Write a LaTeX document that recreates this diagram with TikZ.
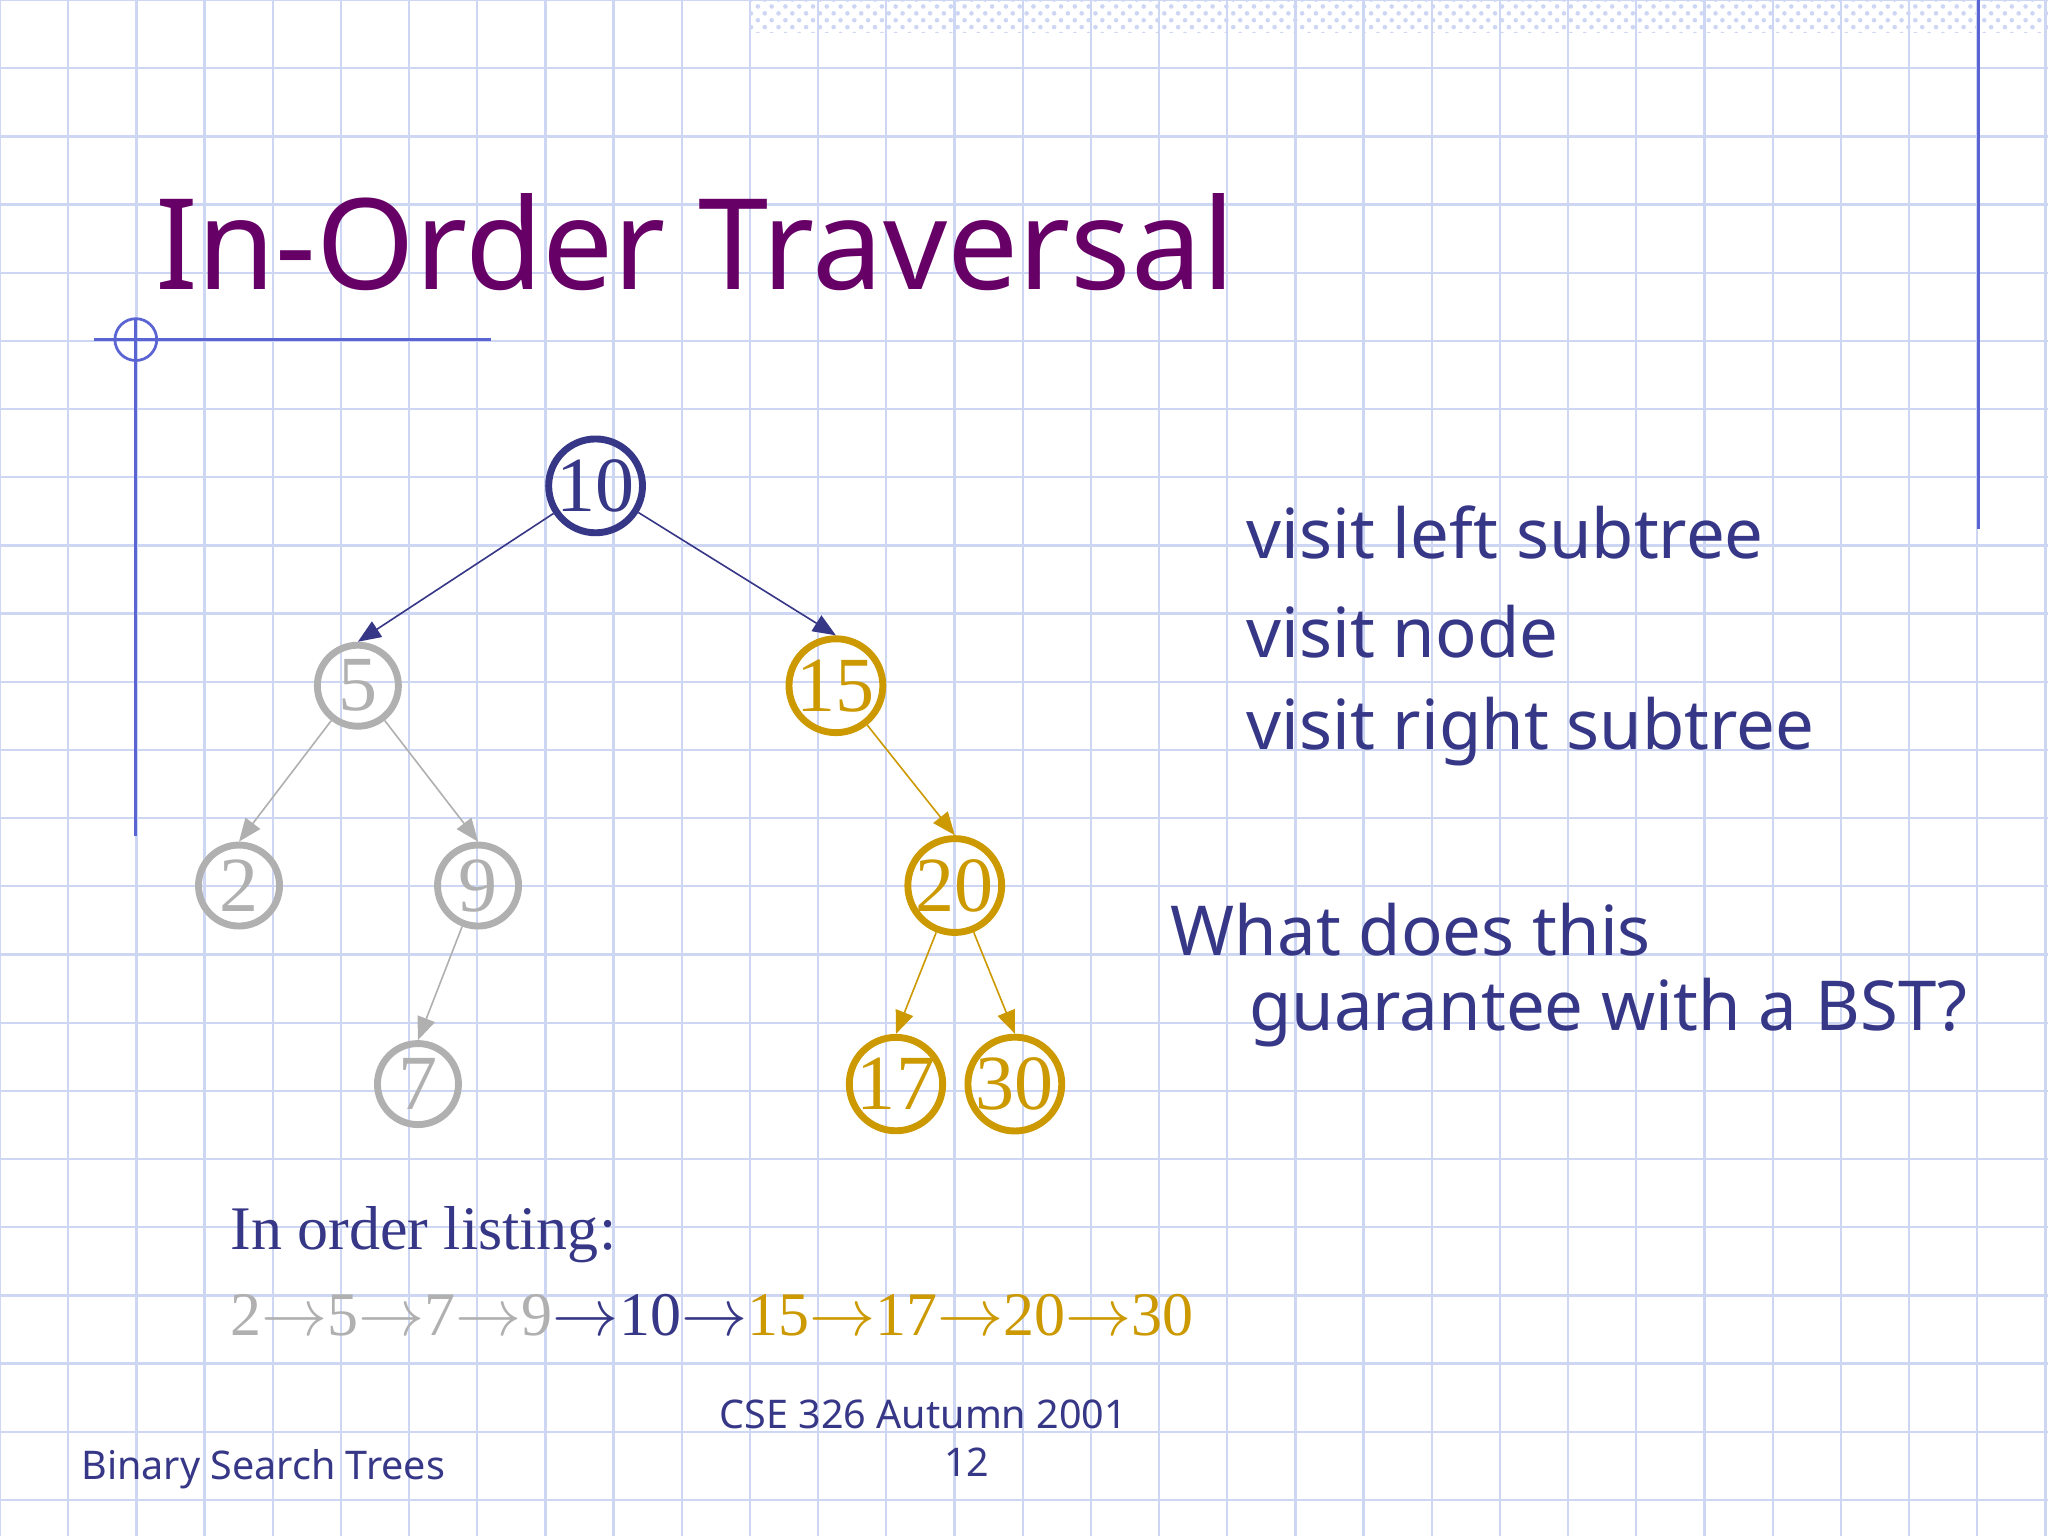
\documentclass[tikz,border=0pt]{standalone}
\usepackage{fontspec}
\setmainfont{Liberation Serif}
\newfontfamily\sans{Noto Sans}
\usetikzlibrary{arrows.meta,patterns}
\definecolor{navy}{RGB}{55,55,135}
\definecolor{gridc}{RGB}{205,214,242}
\definecolor{gold}{RGB}{204,153,0}
\definecolor{grayc}{RGB}{176,176,176}
\definecolor{ttl}{RGB}{102,0,102}
\definecolor{deco}{RGB}{90,100,210}
\tikzset{
 tn/.style={circle,draw=#1,text=#1,line width=1.5pt,minimum size=0.62cm,inner sep=0pt,font=\fontsize{17}{17}\selectfont},
 ed/.style={draw=#1,line width=0.35pt,-{Triangle[length=5pt,width=4pt]}},
 rt/.style={anchor=west,text=navy,font=\sans\fontsize{15}{15}\selectfont}
}
\begin{document}
\begin{tikzpicture}[x=0.01cm,y=-0.01cm]
\useasboundingbox (0,0) rectangle (1568,1176);
\fill[white] (0,0) rectangle (1568,1176);
\foreach \i in {0,...,30} {\draw[gridc,line width=0.5pt] ({52.2*\i},0) -- ({52.2*\i},1176);}
\foreach \i in {0,...,23} {\draw[gridc,line width=0.5pt] (0,{52.2*\i}) -- (1568,{52.2*\i});}
\fill[pattern=crosshatch dots,pattern color=gridc] (575,0) rectangle (1568,25);
\draw[deco,line width=0.6pt] (1515,0) -- (1515,405);
\draw[deco,line width=0.6pt] (72,260) -- (376,260);
\draw[deco,line width=0.6pt] (104,245) -- (104,640);
\draw[deco,line width=0.6pt] (104,260) circle (16);
\node[anchor=base west,text=ttl,font=\sans\fontsize{27.5}{27.5}\selectfont,inner sep=0pt] (title) at (118,222) {In-Order Traversal};
\node[tn=navy] (n10) at (456,372) {10};
\node[tn=grayc] (n5) at (274,525) {5};
\node[tn=gold] (n15) at (640,525) {15};
\node[tn=grayc] (n2) at (183,678) {2};
\node[tn=grayc] (n9) at (366,678) {9};
\node[tn=gold] (n20) at (731,678) {20};
\node[tn=grayc] (n7) at (320,830) {7};
\node[tn=gold] (n17) at (686,830) {17};
\node[tn=gold] (n30) at (777,830) {30};
\draw[ed=navy] (n10) -- (n5.north);
\draw[ed=navy] (n10) -- (n15.north);
\draw[ed=grayc] (n5) -- (n2.north);
\draw[ed=grayc] (n5) -- (n9.north);
\draw[ed=grayc] (n9) -- (n7.north);
\draw[ed=gold] (n15) -- (n20.north);
\draw[ed=gold] (n20) -- (n17.north);
\draw[ed=gold] (n20) -- (n30.north);
\node[rt] (r1) at (942,408) {visit left subtree};
\node[rt] (r2) at (942,484) {visit node};
\node[rt] (r3) at (942,560) {visit right subtree};
\node[rt] (q1) at (884,712) {What does this};
\node[rt] (q2) at (944,775) {guarantee with a BST?};
\node[anchor=west,text=navy,font=\fontsize{13.5}{13.5}\selectfont] (lh) at (164,945) {In order listing:};
\node[anchor=west,font=\fontsize{13.5}{13.5}\selectfont] (ls) at (164,1007) {\textcolor{grayc}{2$\rightarrow$5$\rightarrow$7$\rightarrow$9}\textcolor{navy}{$\rightarrow$10$\rightarrow$}\textcolor{gold}{15$\rightarrow$17$\rightarrow$20$\rightarrow$30}};
\node[anchor=west,text=navy,font=\sans\fontsize{8.6}{8.6}\selectfont] (f1) at (50,1125) {Binary Search Trees};
\node[text=navy,font=\sans\fontsize{8.6}{10.5}\selectfont,align=center] (f2) at (707,1101) {CSE 326 Autumn 2001\\ \hspace*{2.2em}12};
\end{tikzpicture}
\end{document}
